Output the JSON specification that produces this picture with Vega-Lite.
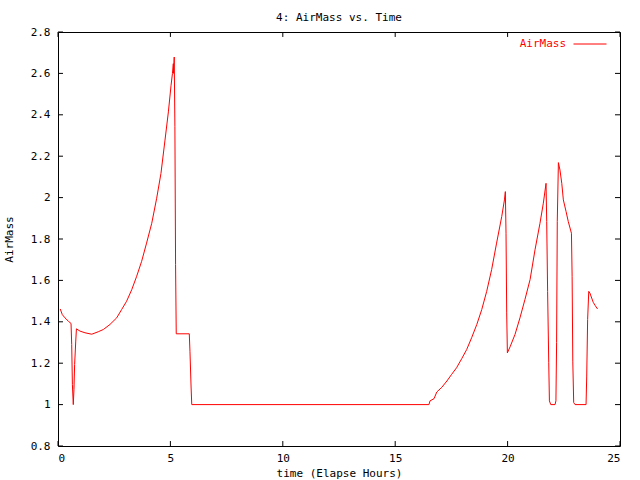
{
  "$schema": "https://vega.github.io/schema/vega-lite/v6.json",
  "width": 562,
  "height": 414,
  "autosize": "none",
  "padding": {"left": 58, "top": 32, "right": 20, "bottom": 34},
  "background": "white",
  "title": {"text": "4: AirMass vs. Time", "font": "DejaVu Sans Mono", "fontSize": 11, "fontWeight": "normal", "color": "black", "offset": 3},
  "config": {
    "view": {"stroke": "black", "strokeWidth": 1},
    "axis": {"labelFont": "DejaVu Sans Mono", "titleFont": "DejaVu Sans Mono", "labelFontSize": 11, "titleFontSize": 11, "titleFontWeight": "normal", "labelColor": "black", "titleColor": "black", "domain": false, "grid": false, "ticks": false}
  },
  "datasets": {
    "xticks": [{"v": 0}, {"v": 5}, {"v": 10}, {"v": 15}, {"v": 20}, {"v": 25}],
    "yticks": [{"v": 0.8}, {"v": 1.0}, {"v": 1.2}, {"v": 1.4}, {"v": 1.6}, {"v": 1.8}, {"v": 2.0}, {"v": 2.2}, {"v": 2.4}, {"v": 2.6}, {"v": 2.8}],
    "series": [
    {"t": 0.10, "a": 1.462, "s": "AirMass"},
    {"t": 0.19, "a": 1.435, "s": "AirMass"},
    {"t": 0.31, "a": 1.419, "s": "AirMass"},
    {"t": 0.46, "a": 1.403, "s": "AirMass"},
    {"t": 0.58, "a": 1.392, "s": "AirMass"},
    {"t": 0.61, "a": 1.29, "s": "AirMass"},
    {"t": 0.64, "a": 1.098, "s": "AirMass"},
    {"t": 0.68, "a": 1.0, "s": "AirMass"},
    {"t": 0.71, "a": 1.074, "s": "AirMass"},
    {"t": 0.74, "a": 1.194, "s": "AirMass"},
    {"t": 0.79, "a": 1.307, "s": "AirMass"},
    {"t": 0.82, "a": 1.366, "s": "AirMass"},
    {"t": 0.98, "a": 1.355, "s": "AirMass"},
    {"t": 1.20, "a": 1.347, "s": "AirMass"},
    {"t": 1.50, "a": 1.340, "s": "AirMass"},
    {"t": 1.79, "a": 1.352, "s": "AirMass"},
    {"t": 2.02, "a": 1.363, "s": "AirMass"},
    {"t": 2.31, "a": 1.387, "s": "AirMass"},
    {"t": 2.61, "a": 1.419, "s": "AirMass"},
    {"t": 2.83, "a": 1.459, "s": "AirMass"},
    {"t": 3.05, "a": 1.499, "s": "AirMass"},
    {"t": 3.28, "a": 1.555, "s": "AirMass"},
    {"t": 3.50, "a": 1.620, "s": "AirMass"},
    {"t": 3.72, "a": 1.692, "s": "AirMass"},
    {"t": 3.94, "a": 1.780, "s": "AirMass"},
    {"t": 4.17, "a": 1.876, "s": "AirMass"},
    {"t": 4.39, "a": 1.997, "s": "AirMass"},
    {"t": 4.58, "a": 2.117, "s": "AirMass"},
    {"t": 4.76, "a": 2.278, "s": "AirMass"},
    {"t": 4.91, "a": 2.414, "s": "AirMass"},
    {"t": 5.03, "a": 2.543, "s": "AirMass"},
    {"t": 5.09, "a": 2.599, "s": "AirMass"},
    {"t": 5.13, "a": 2.647, "s": "AirMass"},
    {"t": 5.14, "a": 2.600, "s": "AirMass"},
    {"t": 5.17, "a": 2.679, "s": "AirMass"},
    {"t": 5.20, "a": 2.342, "s": "AirMass"},
    {"t": 5.23, "a": 1.676, "s": "AirMass"},
    {"t": 5.26, "a": 1.342, "s": "AirMass"},
    {"t": 5.84, "a": 1.342, "s": "AirMass"},
    {"t": 5.87, "a": 1.258, "s": "AirMass"},
    {"t": 5.92, "a": 1.085, "s": "AirMass"},
    {"t": 5.95, "a": 1.0, "s": "AirMass"},
    {"t": 16.50, "a": 1.0, "s": "AirMass"},
    {"t": 16.55, "a": 1.018, "s": "AirMass"},
    {"t": 16.73, "a": 1.029, "s": "AirMass"},
    {"t": 16.85, "a": 1.061, "s": "AirMass"},
    {"t": 17.07, "a": 1.083, "s": "AirMass"},
    {"t": 17.30, "a": 1.114, "s": "AirMass"},
    {"t": 17.51, "a": 1.146, "s": "AirMass"},
    {"t": 17.73, "a": 1.178, "s": "AirMass"},
    {"t": 17.96, "a": 1.222, "s": "AirMass"},
    {"t": 18.18, "a": 1.266, "s": "AirMass"},
    {"t": 18.40, "a": 1.323, "s": "AirMass"},
    {"t": 18.63, "a": 1.387, "s": "AirMass"},
    {"t": 18.85, "a": 1.459, "s": "AirMass"},
    {"t": 19.07, "a": 1.547, "s": "AirMass"},
    {"t": 19.29, "a": 1.652, "s": "AirMass"},
    {"t": 19.51, "a": 1.780, "s": "AirMass"},
    {"t": 19.74, "a": 1.909, "s": "AirMass"},
    {"t": 19.86, "a": 1.989, "s": "AirMass"},
    {"t": 19.90, "a": 2.029, "s": "AirMass"},
    {"t": 19.93, "a": 1.828, "s": "AirMass"},
    {"t": 19.96, "a": 1.443, "s": "AirMass"},
    {"t": 19.99, "a": 1.250, "s": "AirMass"},
    {"t": 20.11, "a": 1.279, "s": "AirMass"},
    {"t": 20.33, "a": 1.339, "s": "AirMass"},
    {"t": 20.55, "a": 1.419, "s": "AirMass"},
    {"t": 20.77, "a": 1.507, "s": "AirMass"},
    {"t": 21.00, "a": 1.604, "s": "AirMass"},
    {"t": 21.22, "a": 1.748, "s": "AirMass"},
    {"t": 21.44, "a": 1.876, "s": "AirMass"},
    {"t": 21.59, "a": 1.973, "s": "AirMass"},
    {"t": 21.71, "a": 2.069, "s": "AirMass"},
    {"t": 21.74, "a": 1.884, "s": "AirMass"},
    {"t": 21.78, "a": 1.547, "s": "AirMass"},
    {"t": 21.83, "a": 1.202, "s": "AirMass"},
    {"t": 21.86, "a": 1.018, "s": "AirMass"},
    {"t": 21.92, "a": 1.0, "s": "AirMass"},
    {"t": 22.11, "a": 1.0, "s": "AirMass"},
    {"t": 22.15, "a": 1.018, "s": "AirMass"},
    {"t": 22.18, "a": 1.299, "s": "AirMass"},
    {"t": 22.21, "a": 1.884, "s": "AirMass"},
    {"t": 22.26, "a": 2.169, "s": "AirMass"},
    {"t": 22.33, "a": 2.133, "s": "AirMass"},
    {"t": 22.41, "a": 2.069, "s": "AirMass"},
    {"t": 22.48, "a": 1.989, "s": "AirMass"},
    {"t": 22.60, "a": 1.933, "s": "AirMass"},
    {"t": 22.70, "a": 1.884, "s": "AirMass"},
    {"t": 22.84, "a": 1.828, "s": "AirMass"},
    {"t": 22.87, "a": 1.620, "s": "AirMass"},
    {"t": 22.90, "a": 1.210, "s": "AirMass"},
    {"t": 22.94, "a": 1.01, "s": "AirMass"},
    {"t": 23.00, "a": 1.0, "s": "AirMass"},
    {"t": 23.49, "a": 1.0, "s": "AirMass"},
    {"t": 23.52, "a": 1.138, "s": "AirMass"},
    {"t": 23.56, "a": 1.411, "s": "AirMass"},
    {"t": 23.61, "a": 1.547, "s": "AirMass"},
    {"t": 23.66, "a": 1.539, "s": "AirMass"},
    {"t": 23.74, "a": 1.515, "s": "AirMass"},
    {"t": 23.81, "a": 1.494, "s": "AirMass"},
    {"t": 23.90, "a": 1.478, "s": "AirMass"},
    {"t": 24.00, "a": 1.462, "s": "AirMass"}
  ]},
  "layer": [
    {
      "data": {"name": "series"},
      "mark": {"type": "line", "strokeWidth": 1, "interpolate": "linear"},
      "encoding": {
        "x": {"field": "t", "type": "quantitative", "scale": {"domain": [0, 25], "nice": false, "zero": false},
              "axis": {"orient": "bottom", "title": "time (Elapse Hours)", "values": [0, 5, 10, 15, 20, 25], "labelPadding": 6, "titlePadding": 4}},
        "y": {"field": "a", "type": "quantitative", "scale": {"domain": [0.8, 2.8], "nice": false, "zero": false},
              "axis": {"orient": "left", "title": "AirMass", "values": [0.8, 1, 1.2, 1.4, 1.6, 1.8, 2, 2.2, 2.4, 2.6, 2.8], "format": ".1~f", "labelPadding": 8, "titlePadding": 16}},
        "color": {"field": "s", "type": "nominal", "scale": {"range": ["#ff0000"]},
                  "legend": {"title": null, "orient": "none", "legendX": 515, "legendY": -5, "padding": 0, "symbolType": "stroke", "symbolSize": 1089, "symbolStrokeWidth": 1, "labelFont": "DejaVu Sans Mono", "labelFontSize": 11, "labelColor": "#ff0000", "labelAlign": "right", "labelOffset": -41}}
      }
    },
    {
      "data": {"name": "xticks"},
      "mark": {"type": "rule", "color": "black", "strokeWidth": 1},
      "encoding": {"x": {"field": "v", "type": "quantitative"}, "y": {"datum": 0.8}, "y2": {"datum": 0.824}}
    },
    {
      "data": {"name": "xticks"},
      "mark": {"type": "rule", "color": "black", "strokeWidth": 1},
      "encoding": {"x": {"field": "v", "type": "quantitative"}, "y": {"datum": 2.8}, "y2": {"datum": 2.776}}
    },
    {
      "data": {"name": "yticks"},
      "mark": {"type": "rule", "color": "black", "strokeWidth": 1},
      "encoding": {"y": {"field": "v", "type": "quantitative"}, "x": {"datum": 0}, "x2": {"datum": 0.222}}
    },
    {
      "data": {"name": "yticks"},
      "mark": {"type": "rule", "color": "black", "strokeWidth": 1},
      "encoding": {"y": {"field": "v", "type": "quantitative"}, "x": {"datum": 25}, "x2": {"datum": 24.778}}
    }
  ]
}
